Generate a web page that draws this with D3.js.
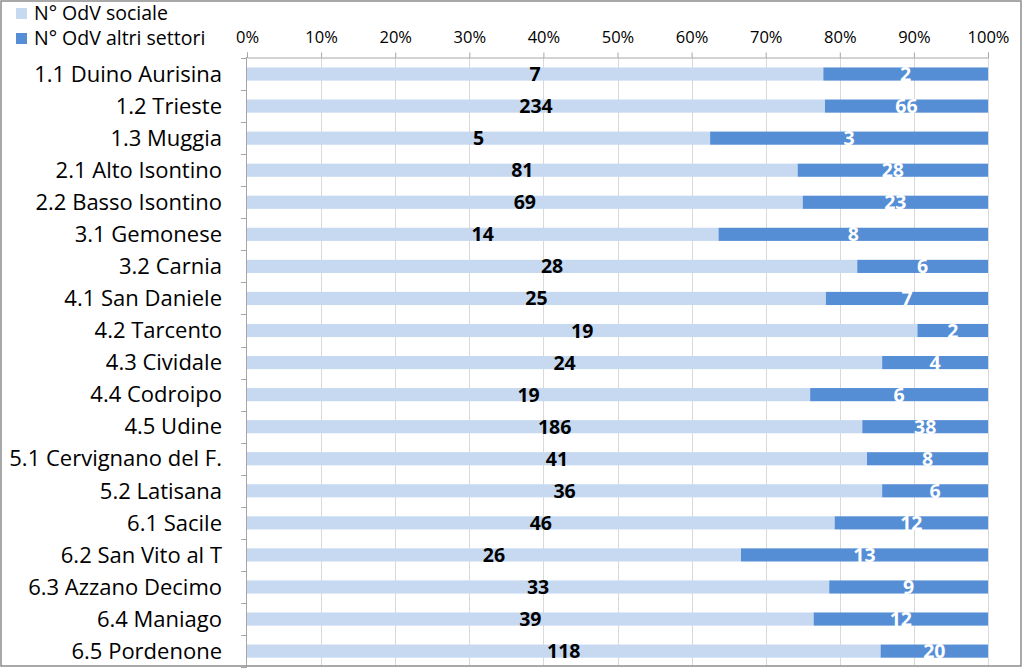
<!DOCTYPE html>
<html><head><meta charset="utf-8">
<script src="https://cdn.jsdelivr.net/npm/d3@7"></script>
<style>body{margin:0;background:#fff}svg{display:block}</style>
</head><body>
<svg id="c" width="1023" height="668"></svg>
<script>
const categories = ["1.1 Duino Aurisina","1.2 Trieste","1.3 Muggia","2.1 Alto Isontino","2.2 Basso Isontino","3.1 Gemonese","3.2 Carnia","4.1 San Daniele","4.2 Tarcento","4.3 Cividale","4.4 Codroipo","4.5 Udine","5.1 Cervignano del F.","5.2 Latisana","6.1 Sacile","6.2 San Vito al T","6.3 Azzano Decimo","6.4 Maniago","6.5 Pordenone"];
const sociale = [7,234,5,81,69,14,28,25,19,24,19,186,41,36,46,26,33,39,118];
const altri = [2,66,3,28,23,8,6,7,2,4,6,38,8,6,12,13,9,12,20];
const seriesNames = ["N° OdV sociale","N° OdV altri settori"];
const tickValues = [0,0.1,0.2,0.3,0.4,0.5,0.6,0.7,0.8,0.9,1];

(function(){
const colors = ["#C6D9F1","#558ED5"];
const font = "'Open Sans', 'Noto Sans', sans-serif";
const svg = d3.select("#c");
const W = 1023, H = 668;
const pL = 247, pR = 988, pT = 58;
const step = 32.06;

const x = d3.scaleLinear().domain([0,1]).range([pL,pR]);
const y = d3.scaleBand().domain(categories).range([pT, pT + step*categories.length]).paddingInner(0.59).paddingOuter(0.295);

// gridlines
svg.append("g").selectAll("line").data(tickValues.slice(1)).join("line")
  .attr("x1", d=>Math.round(x(d))+0.5).attr("x2", d=>Math.round(x(d))+0.5).attr("y1", pT-1).attr("y2", H-2)
  .attr("stroke", "#D9D9D9").attr("stroke-width", 1);

// top axis
const xAxis = d3.axisTop(x).tickValues(tickValues).tickFormat(d3.format(".0%")).tickSize(5).tickPadding(10);
const gx = svg.append("g").attr("transform", `translate(0,${pT-0.5})`).call(xAxis);
gx.select(".domain").attr("stroke","#A6A6A6");
gx.selectAll(".tick line").attr("stroke","#A6A6A6");
gx.selectAll("text").attr("font-family", font).attr("font-size", 16.5).attr("fill","#000");

// left axis line & ticks at band boundaries
const bounds = d3.range(categories.length+1).map(i => pT + i*step);
svg.append("line").attr("x1", pL-0.5).attr("x2", pL-0.5).attr("y1", pT-1).attr("y2", H-2).attr("stroke","#A6A6A6");
svg.append("g").selectAll("line").data(bounds).join("line")
  .attr("x1", pL-6).attr("x2", pL).attr("y1", d=>Math.round(d)+0.5).attr("y2", d=>Math.round(d)+0.5)
  .attr("stroke","#A6A6A6");

// category labels
svg.append("g").selectAll("text").data(categories).join("text")
  .attr("x", 222).attr("y", d=>y(d)+y.bandwidth()/2).attr("dy","0.35em")
  .attr("text-anchor","end").attr("font-family", font).attr("font-size", 22).attr("fill","#000")
  .text(d=>d);

// stacked bars
const rows = categories.map((c,i)=>({c, a:sociale[i], b:altri[i], t:sociale[i]+altri[i]}));
const g = svg.append("g");
g.selectAll("rect.a").data(rows).join("rect").attr("class","a")
  .attr("x", x(0)).attr("y", d=>y(d.c)).attr("height", y.bandwidth())
  .attr("width", d=>x(d.a/d.t)-x(0)).attr("fill", colors[0]);
g.selectAll("rect.b").data(rows).join("rect").attr("class","b")
  .attr("x", d=>x(d.a/d.t)).attr("y", d=>y(d.c)).attr("height", y.bandwidth())
  .attr("width", d=>x(1)-x(d.a/d.t)).attr("fill", colors[1]);

// value labels
g.selectAll("text.a").data(rows).join("text").attr("class","a")
  .attr("x", d=>x(d.a/d.t/2)).attr("y", d=>y(d.c)+y.bandwidth()/2).attr("dy","0.36em")
  .attr("text-anchor","middle").attr("font-family", font).attr("font-weight","bold").attr("font-size",19.5).attr("fill","#000")
  .text(d=>d.a);
g.selectAll("text.b").data(rows).join("text").attr("class","b")
  .attr("x", d=>x((d.a/d.t+1)/2)).attr("y", d=>y(d.c)+y.bandwidth()/2).attr("dy","0.36em")
  .attr("text-anchor","middle").attr("font-family", font).attr("font-weight","bold").attr("font-size",19.5).attr("fill","#fff")
  .text(d=>d.b);

// legend
const lg = svg.append("g");
seriesNames.forEach((n,i)=>{
  lg.append("rect").attr("x",16).attr("y",8+i*25).attr("width",11).attr("height",11).attr("fill",colors[i]);
  lg.append("text").attr("x",34).attr("y",13+i*25).attr("dy","0.35em").attr("font-family",font).attr("font-size",19.5).attr("fill","#000").text(n);
});

// border
svg.append("rect").attr("x",1).attr("y",1).attr("width",W-3).attr("height",H-3).attr("fill","none").attr("stroke","#8C8C8C").attr("stroke-width",1.5);
})();
</script>
</body></html>
